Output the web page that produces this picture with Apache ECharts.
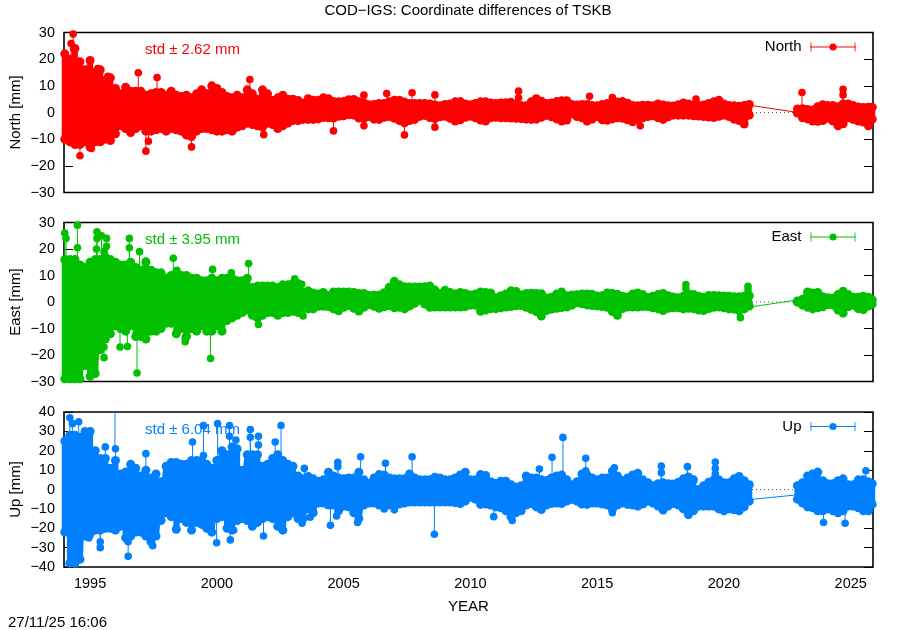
<!DOCTYPE html>
<html>
<head>
<meta charset="utf-8">
<title>COD-IGS TSKB</title>
<script src="https://cdn.jsdelivr.net/npm/echarts@6/dist/echarts.min.js"></script>
<style>
	html,body{margin:0;padding:0;background:#fff;}
	#chart{width:900px;height:630px;}
</style>
</head>
<body>
<div id="chart"></div>
<script>
	var epochsA = [
		1994.0,1994.2,1994.4,1994.6,1994.8, 1995.0,1995.2,1995.4,1995.6,1995.8,
		1996.0,1996.2,1996.4,1996.6,1996.8, 1997.0,1997.2,1997.4,1997.6,1997.8,
		1998.0,1998.2,1998.4,1998.6,1998.8, 1999.0,1999.2,1999.4,1999.6,1999.8,
		2000.0,2000.2,2000.4,2000.6,2000.8, 2001.0,2001.2,2001.4,2001.6,2001.8,
		2002.0,2002.2,2002.4,2002.6,2002.8, 2003.0,2003.2,2003.4,2003.6,2003.8,
		2004.0,2004.2,2004.4,2004.6,2004.8, 2005.0,2005.2,2005.4,2005.6,2005.8,
		2006.0,2006.2,2006.4,2006.6,2006.8, 2007.0,2007.2,2007.4,2007.6,2007.8,
		2008.0,2008.2,2008.4,2008.6,2008.8, 2009.0,2009.2,2009.4,2009.6,2009.8,
		2010.0,2010.2,2010.4,2010.6,2010.8, 2011.0,2011.2,2011.4,2011.6,2011.8,
		2012.0,2012.2,2012.4,2012.6,2012.8, 2013.0,2013.2,2013.4,2013.6,2013.8,
		2014.0,2014.2,2014.4,2014.6,2014.8, 2015.0,2015.2,2015.4,2015.6,2015.8,
		2016.0,2016.2,2016.4,2016.6,2016.8, 2017.0,2017.2,2017.4,2017.6,2017.8,
		2018.0,2018.2,2018.4,2018.6,2018.8, 2019.0,2019.2,2019.4,2019.6,2019.8,
		2020.0,2020.2,2020.4,2020.6,2020.8, 2021.0
	];
	var epochsB = [2022.9,2023.1,2023.3,2023.5,2023.7,2023.9,2024.1,2024.3,2024.5,2024.7,2024.9,2025.1,2025.3,2025.5,2025.7,2025.85];

	var northHi = [
		22,20,24,19,16, 19.5,15,16,12,13,
		9,7,9.5,8,8, 8,6.5,7,7.5,7.5,
		6.5,8,6.5,6,6.5, 5.5,7,8.5,7,10,
		9,7.5,6,5.5,6.5, 5.5,8.5,7,5,8.5,
		7,4.5,5.5,6.5,5, 5,4.5,3.5,5.2,4.6,
		4.6,5.5,5.2,4.1,4, 4.1,4.8,4.9,4,3.6,
		2.9,3,3.4,3.4,4, 4.6,4.6,3.9,3.4,3.4,
		3.4,3.4,3.2,2.8,2.5, 3,3.2,4,4.1,3.2,
		2.9,3.4,4,4,3.6, 3.4,3.6,3.7,3.8,3,
		2.6,2.5,4,5.2,4.2, 3.4,3.6,4.1,4.4,4.4,
		3,2.8,3,3,2.6, 2.5,3,3.4,3.2,3.9,
		4.1,3.5,2.6,2.5,2.7, 2.7,2.5,3.2,2.8,2.5,
		2.4,2.9,3.6,3.2,2.6, 2.6,2.8,3.4,4,4.6,
		3.2,2.6,2.5,2.3,2.6, 3
	];
	var northLo = [
		-10,-11,-12,-12,-11, -13,-11,-11,-10,-10.5,
		-8,-5,-6,-7.5,-6, -5,-7,-7,-6.5,-6,
		-7,-6,-6.5,-7,-8.5, -9,-7,-6,-6,-6.5,
		-7,-7,-6.5,-7,-5.5, -5,-4,-4.5,-5,-5.5,
		-4,-4.5,-6,-5,-4, -3,-3,-2.6,-2.6,-2.6,
		-2.4,-1.9,-2,-2.1,-1.4, -1.2,-0.8,-1,-2.1,-2.3,
		-1.5,-2.5,-2.6,-1.8,-1.5, -2.2,-3,-3.9,-3,-2.6,
		-1.4,-1.1,-1.9,-2.3,-1.6, -1.4,-2.2,-3.2,-2.7,-1.8,
		-1.4,-2,-2.8,-3.2,-2, -1.8,-2,-2,-2.1,-2.2,
		-2.3,-2.5,-2.6,-2.5,-1.8, -1.1,-1.6,-2.4,-3.2,-2.8,
		-0.6,-1.5,-2,-3.2,-2.5, -1.5,-2.7,-2.9,-2.4,-2,
		-2.2,-2.7,-3.5,-2.6,-2, -1.5,-1.2,-2,-2.6,-1.6,
		-1,-1,-1,-1,-1.2, -1.3,-1.5,-1.7,-1.9,-1.4,
		-1,-1.5,-2.5,-3,-4.3, -1
	];
	var northHiB = [1.3,1.4,1.1,0.9,2.2,2.9,2.6,2.6,2.2,3.2,3.2,2.6,2.1,1.9,2,2];
	var northLoB = [-0.2,-2,-2.4,-3.2,-3.3,-3,-2.2,-3.2,-5,-4.2,-2,-2.6,-3.2,-3.6,-5,-2.5];
	//single days off the band: [year, value, foot of the stalk]
	var northSpikes = [
		[1994.33,29.4,22],[1994.25,25.9,20],[1994.35,24,18],[1995.3,16.5,12],[1995.7,13.6,9],
		[1996.9,14.9,8],[1997.64,13.1,7],[2001.3,12.4,8],[1994.6,-16.2,-11],[1995.05,-13.5,-10],
		[1997.2,-14.5,-6],[1997.3,-10.8,-7],[1999,-12.9,-7],[2001.85,-8.3,-5],[2004.6,-6.9,-2.5],
		[2005.8,6.5,3.5],[2005.8,-5,-2.1],[2006.7,7.1,3.4],[2007.7,7.4,3.4],[2007.4,-8.4,-3.9],
		[2008.6,6.6,2.8],[2008.6,-5.5,-2.3],[2011.9,8,3],[2011.9,5.5,3],[2014.7,6.1,3],
		[2015.6,5.6,3.2],[2016.7,-5,-3.5],[2018.9,5,2.8],[2023.08,7.5,1.4],[2024.7,8.7,3.2],[2024.7,6.6,3.2]
	];
	var northGap = [[2021.1,2.6],[2022.85,0.1]];

	var eastHi = [
		16,16,16,14,13, 15,16,16,17,16,
		15,14,14,15,13, 12,15,12,11,11,
		9,10,11,10,10, 9,9,8,8,9,
		8,9,9,9,8, 8,9,5.5,6,6,
		6,6,5.5,6.5,6.5, 7,7,3.8,4.2,3.4,
		3,3.6,2.4,3.8,3.8, 3.8,3.8,3.6,3.2,3.2,
		2.5,2.6,2.6,3.5,5.6, 7.8,6.5,5.8,5.7,5.7,
		5.7,5.8,6,4.5,3.2, 4.4,3.6,3,3.6,3.2,
		2.6,3,3.8,3.6,3.4, 1.6,2.4,3,4.2,4,
		2.6,3.2,3.3,3.2,3.1, 1.5,1.8,3,3.8,2.4,
		2.6,2.7,3,3,2.9, 2.3,2.4,3.4,3.2,2.9,
		2.2,1.9,3,3.4,2.8, 1.7,2.2,2.8,3.2,2.4,
		1.9,1.6,2.2,3,2.8, 2.2,1.8,2.5,2.5,2.4,
		2.3,2.2,2,2,2.2, 2.4
	];
	var eastLo = [
		-29,-29,-29,-29,-24, -28,-27,-18,-14,-12,
		-9,-10,-11,-9,-13, -13,-14,-11,-11,-10,
		-8,-8,-12,-10,-13, -10,-11,-9,-11,-11,
		-9,-11,-7,-6,-5, -4,-3,-5,-6,-5,
		-4,-4,-5,-4,-4, -3.5,-4,-2.6,-2.6,-2.6,
		-1.6,-1.6,-1.7,-2.6,-3.3, -2,-1.3,-2.4,-3.4,-2,
		-1,-1.6,-2.4,-1.8,-1.3, -2.2,-2,-2.6,-1.5,-0.5,
		0.6,-0.8,-2,-1.9,-1.9, -1.9,-1.9,-1.9,-1.9,-1.7,
		-1.2,-1.2,-3.5,-3,-2.5, -2.5,-2.2,-1.9,-1.7,-1.4,
		-1.3,-2,-2.8,-3.6,-5.3, -3.2,-2.7,-2.4,-2.1,-1.9,
		-1.2,-0.3,-0.7,-1.1,-1.3, -1.5,-1.7,-2,-3.6,-5,
		-2.5,-1.9,-1.9,-1.9,-1.7, -1.7,-2.2,-2.6,-3.2,-2.4,
		-2.2,-2.2,-2.6,-2.4,-2.5, -3,-3.2,-2.5,-2,-1.9,
		-2.2,-2.6,-2.7,-3.2,-2.6, -1.5
	];
	var eastHiB = [0,1,3.8,3.4,3.6,2,1.6,1.4,2.8,4.1,2.8,1.8,1.8,2.2,1.8,0.8];
	var eastLoB = [0.4,-1.2,-2,-2.6,-2.2,-1.8,-1,-1.2,-3,-4.2,-1.8,-1.2,-2.5,-2.9,-1.5,-0.8];
	var eastSpikes = [
		[1994,26,16],[1994.05,24,16],[1994.5,29,16],[1994.5,20.5,16],[1995.27,26.5,16],
		[1995.27,24,16],[1995.25,20,16],[1995.45,25,16],[1995.65,24,17],[1995.65,21,17],
		[1995.55,19,17],[1996.55,24,15],[1996.55,20.5,15],[1996.95,19,13],[1997.2,15.5,12],
		[1998.28,16.5,10],[1998.42,12,10],[1999.83,12.3,8],[2000.57,11,8.5],[2001.25,14.5,8],
		[2003.07,8.8,6.5],[1995.55,-17,-12],[1995.55,-21,-12],[1996.18,-17,-9],[1996.47,-16.8,-11],
		[1996.85,-26.8,-12],[1998.75,-15,-10],[1998.75,-13.5,-10],[1999.75,-21.3,-11],[2001.64,-8.5,-5],
		[2003.35,6.7,3.8],[2003.4,-5.3,-2.6],[2018.5,6.6,3],[2018.5,5,3],[2020.95,5.9,2.3],
		[2020.95,4.5,2.3],[2020.65,-5.9,-3]
	];
	var eastGap = [[2021.1,-1.8],[2022.85,0.7]];

	var upHi = [
		25,28,28,27,30, 30,20,16,16,11,
		15,8,9,13,11, 7,10,6,8,4,
		12,14,14,13,13, 15,15,15,13,11,
		15,20,18,22,21, 10,18,18,18,12,
		13,16,18,15,13, 12,7,5.5,6.7,5.5,
		4.3,5,8.9,7,6, 5.5,6,6,8.9,5,
		3.2,6,7.7,7.5,6, 5.5,5.5,5.5,8,6,
		5,5,5,6.3,6, 5,5,6,7.5,8.9,
		5,5,7.7,7.2,4, 3.2,4.3,4.3,2.5,1.2,
		2,7,6,6,5, 4.6,6,7,7.5,5,
		2.5,4,8,7.5,6, 5,6,6,9.5,7,
		4.6,6,7.5,8.4,5, 3.5,2,3,3.5,3,
		2.9,3.7,5.5,6.5,5, 0,2,3.8,5,5,
		3.5,3.5,5.5,6.7,4.5, 2.5
	];
	var upLo = [
		-22,-38,-38,-36,-24, -23,-21,-21,-20,-20,
		-21,-19,-25,-24,-22, -22,-24,-27,-24,-16,
		-12,-14,-20.5,-15,-17, -21,-17,-18,-20,-22,
		-15,-14,-20,-21,-16, -15,-16,-19,-17,-15,
		-14,-15,-19,-21,-14, -12,-15,-15,-10,-12,
		-7,-7,-8,-8,-11, -8.6,-9,-12,-15,-8,
		-7,-7,-8,-8.5,-8, -8.6,-7.5,-7,-6.5,-6.5,
		-6.5,-6.5,-6.5,-6.5,-6.5, -6.5,-6.5,-6.8,-7.2,-6,
		-4,-5,-7.7,-7.5,-8, -9,-9.4,-11,-14,-12,
		-11,-8,-7.2,-9,-10.3, -8,-7.2,-7,-7.2,-6,
		-5.1,-6,-7.5,-7.7,-7, -7,-7.5,-8,-10.3,-8,
		-7,-7.7,-8,-8.6,-7.5, -6,-7,-8.5,-10.6,-8.5,
		-7.2,-8,-10,-13,-11, -8.6,-8.6,-8.6,-8.6,-10,
		-11,-10,-10.5,-11,-9, -6
	];
	var upHiB = [2,3.5,7,8,9,4.5,3,3,4.5,5.5,2.5,2.5,5,5,4,3];
	var upLoB = [-5,-7,-9,-9.4,-11,-11,-10,-11,-12,-11,-8.6,-8.6,-9.4,-11,-11,-7.7];
	var upSpikes = [
		[1994.2,37,28],[1994.3,34,28],[1994.55,35,28],[1995.6,22,16],[1995.98,40,21],
		[1996,21,15],[1997.2,18.5,10],[1999.04,24.5,15],[1999.47,33,15],[1999.47,17.5,15],
		[2000.03,34,15],[2000.5,33,20],[2000.5,27.5,20],[2000.75,25.5,21],[2001.32,31,18],
		[2001.32,27,18],[2001.64,27.5,18],[2001.64,23,18],[2002.3,24.5,18],[2002.53,33,18],
		[1994.95,-25,-20],[1995.4,-27,-21],[1995.4,-30,-21],[1996.5,-34.5,-25],[1996.5,-27,-25],
		[1997.47,-29,-27],[1999.99,-27.5,-15],[2000.53,-26,-20],[2000.66,-21,-16],[2001.84,-24,-15],
		[2003.45,10.9,5.5],[2004.77,14,6],[2004.77,11.8,6],[2005.67,16.9,8.9],[2006.65,13.5,7.5],
		[2007.7,16.9,8],[2012.72,10.6,5],[2013.22,16.6,6],[2013.65,26.9,7.5],[2014.55,16.1,8],
		[2014.55,9.7,8],[2015.68,11.2,9.5],[2003.36,-17.4,-15],[2003.68,-14.3,-10],[2004.48,-18.5,-8],
		[2004.72,-13.7,-11],[2005.55,-17,-15],[2006.6,-10,-8.5],[2007,-10.5,-8.6],[2008.58,-23.1,-6.5],
		[2010.92,-14,-8],[2011.65,-16,-14],[2015.6,-12,-10.3],[2017.53,12.1,3.5],[2017.53,8.7,3.5],
		[2018.56,11.8,6.5],[2019.66,14.2,5],[2019.66,10.9,5],[2019.66,8,5],[2023.93,-17,-11],
		[2024.78,-17.4,-11],[2025.6,9.7,5]
	];
	var upGap = [[2021.1,-5.1],[2022.85,-2.8]];

	var xTicks = [1995,2000,2005,2010,2015,2020,2025];

	var xMin = 1993.97, xMax = 2025.88;
	var fontName = '"Liberation Sans", Arial, sans-serif';
	var panels = [
		{name:'North', color:'#ff0000', top:32.5, height:160, yMax:30, std:'std ± 2.62 mm', hi:northHi, lo:northLo, hiB:northHiB, loB:northLoB, spikes:northSpikes, gap:northGap},
		{name:'East', color:'#00c000', top:222.5, height:159, yMax:30, std:'std ± 3.95 mm', hi:eastHi, lo:eastLo, hiB:eastHiB, loB:eastLoB, spikes:eastSpikes, gap:eastGap},
		{name:'Up', color:'#0080ff', top:412, height:155, yMax:40, std:'std ± 6.04 mm', hi:upHi, lo:upLo, hiB:upHiB, loB:upLoB, spikes:upSpikes, gap:upGap}
	];

	//zigzag from each high edge to its low edge, null breaks the data gap
	function zigzag(p){
		var pts = [], i;
		for(i = 0; i < epochsA.length; i++){
			pts.push([epochsA[i], p.hi[i]]);
			pts.push([epochsA[i], p.lo[i]]);
		}
		pts.push(null);
		for(i = 0; i < epochsB.length; i++){
			pts.push([epochsB[i], p.hiB[i]]);
			pts.push([epochsB[i], p.loB[i]]);
		}
		return pts;
	}

	function minus(v){
		return String(v).replace('-', '\u2212');
	}

	var option = {
		animation: false,
		backgroundColor: '#fff',
		textStyle: {fontFamily: fontName},
		title: [{
			text: 'COD\u2212IGS: Coordinate differences of TSKB',
			left: 468, top: 3, padding: 0, textAlign: 'center',
			textStyle: {fontFamily: fontName, fontSize: 15, fontWeight: 'normal', color: '#000'}
		},{
			text: '27/11/25 16:06',
			left: 8, top: 615, padding: 0,
			textStyle: {fontFamily: fontName, fontSize: 15, fontWeight: 'normal', color: '#000'}
		}],
		grid: [], xAxis: [], yAxis: [], legend: [], series: [], graphic: []
	};

	panels.forEach(function(p, k){
		var xBottom = k * 2, xTop = k * 2 + 1;
		var yLeft = k * 2, yRight = k * 2 + 1;
		var last = k === panels.length - 1;

		option.title.push({
			text: p.std, left: 145, top: p.top + 10, padding: 0, z: 1,
			textStyle: {fontFamily: fontName, fontSize: 15, fontWeight: 'normal', color: p.color}
		});
		option.grid.push({left: 64, width: 809, top: p.top, height: p.height, outerBoundsMode: 'none', show: true, borderColor: '#000', borderWidth: 1.6, backgroundColor: 'transparent'});

		[xBottom, xTop].forEach(function(ix, side){
			option.xAxis.push({
				type: 'value', gridIndex: k, min: xMin, max: xMax, position: side ? 'top' : 'bottom',
				splitLine: {show: false}, axisLine: {show: false},
				axisTick: {show: last, inside: true, length: 8, customValues: xTicks, lineStyle: {color: '#000', width: 1}},
				axisLabel: {show: last && !side, margin: 9, customValues: xTicks, fontSize: 14.5, color: '#000', fontFamily: fontName, formatter: function(v){ return String(v); }},
				name: last && !side ? 'YEAR' : '', nameLocation: 'middle', nameGap: 32,
				nameTextStyle: {fontSize: 15, color: '#000', fontFamily: fontName}
			});
		});
		[yLeft, yRight].forEach(function(iy, side){
			option.yAxis.push({
				type: 'value', gridIndex: k, min: -p.yMax, max: p.yMax, interval: 10, position: side ? 'right' : 'left',
				splitLine: {show: false}, axisLine: {show: false},
				axisTick: {show: true, inside: true, length: 9, lineStyle: {color: '#000', width: 1}},
				axisLabel: {show: !side, margin: 9, fontSize: 14.5, padding: [2, 0, 0, 0], color: '#000', fontFamily: fontName, formatter: minus},
				name: side ? '' : p.name + ' [mm]', nameLocation: 'middle', nameGap: 41, nameMoveOverlap: false,
				nameTextStyle: {fontSize: 15, color: '#000', fontFamily: fontName}
			});
		});

		//dotted zero line, only seen through the gap
		option.series.push({
			type: 'line', name: p.name + ' zero', xAxisIndex: xBottom, yAxisIndex: yLeft, z: 1,
			data: [[xMin, 0], [xMax, 0]], symbol: 'none', silent: true,
			lineStyle: {color: '#555', width: 1, type: [1, 3]}
		});
		option.series.push({
			type: 'line', name: p.name + ' gap', xAxisIndex: xBottom, yAxisIndex: yLeft, z: 2,
			data: p.gap, symbol: 'none', silent: true,
			lineStyle: {color: p.color, width: 1}
		});
		option.series.push({
			type: 'line', name: p.name, xAxisIndex: xBottom, yAxisIndex: yLeft, z: 3,
			data: zigzag(p), clip: false, connectNulls: false, silent: true,
			showSymbol: true, showAllSymbol: true, symbol: 'circle', symbolSize: 9,
			itemStyle: {color: p.color},
			lineStyle: {color: p.color, width: 6, join: 'round', cap: 'round'}
		});
		option.series.push({
			type: 'custom', name: p.name + ' spikes', xAxisIndex: xBottom, yAxisIndex: yLeft, z: 3,
			data: p.spikes, clip: false, silent: true,
			encode: {x: 0, y: 1},
			renderItem: function(params, api){
				var year = api.value(0), val = api.value(1);
				var tip = api.coord([year, val]);
				var foot = api.coord([year, api.value(2)]);
				var kids = [{
					type: 'line',
					shape: {x1: tip[0], y1: tip[1], x2: foot[0], y2: foot[1]},
					style: {stroke: p.color, lineWidth: 1}
				}];
				if(Math.abs(val) < p.yMax){
					kids.push({type: 'circle', shape: {cx: tip[0], cy: tip[1], r: 3.8}, style: {fill: p.color}});
				}
				return {type: 'group', children: kids};
			}
		});

		option.legend.push({
			data: [{name: p.name}],
			right: 44, top: p.top + 7, padding: 0, align: 'right',
			itemWidth: 45, itemHeight: 9,
			lineStyle: {width: 1},
			textStyle: {fontFamily: fontName, fontSize: 15, color: '#000', padding: [2, 4, 0, 0]},
			selectedMode: false
		});
		//caps of the legend sample
		[811, 855].forEach(function(cx){
			option.graphic.push({
				type: 'line', silent: true,
				shape: {x1: cx, y1: p.top + 10, x2: cx, y2: p.top + 19},
				style: {stroke: p.color, lineWidth: 1.5, opacity: 0.55}
			});
		});
	});

	var myChart = echarts.init(document.getElementById('chart'), null, {renderer: 'canvas'});
	myChart.setOption(option);
</script>
</body>
</html>
